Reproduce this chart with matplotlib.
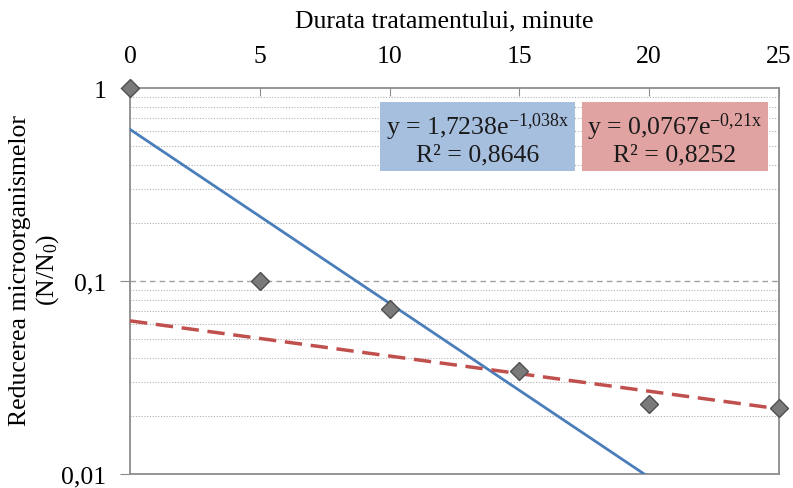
import numpy as np
import matplotlib
matplotlib.use("Agg")
import matplotlib.pyplot as plt
from matplotlib.patches import Rectangle
from matplotlib.ticker import FixedLocator, FixedFormatter, LogLocator, NullFormatter

plt.rcParams['font.family'] = ['Liberation Serif', 'DejaVu Serif']
plt.rcParams['mathtext.fontset'] = 'custom'
plt.rcParams['mathtext.rm'] = 'Liberation Serif'
plt.rcParams['mathtext.it'] = 'Liberation Serif'

# data
minutes = [0, 5, 10, 15, 20, 25]
reduction = [1.0, 0.1, 0.072, 0.034, 0.023, 0.022]
x_ticks = [0, 5, 10, 15, 20, 25]
y_ticks = [0.01, 0.1, 1]
y_tick_labels = ['0,01', '0,1', '1']
# exponential trendlines (Excel, x = point index 1..6)
blue_a, blue_b = 1.7238, -1.038
red_a, red_b = 0.0767, -0.21
blue_eq = ['y = 1,7238e$^{\\mathregular{-1{,}038x}}$', 'R² = 0,8646']
red_eq = ['y = 0,0767e$^{\\mathregular{-0{,}21x}}$', 'R² = 0,8252']

FS = 18.5

fig = plt.figure(figsize=(7.93, 4.89), dpi=100)
ax = fig.add_axes([130/793, 14/489, 649/793, 386/489])

ax.set_yscale('log')
ax.set_xlim(0, 25)
ax.set_ylim(0.01, 1)

# gridlines
ax.yaxis.set_minor_locator(LogLocator(base=10, subs=np.arange(2, 10)))
ax.yaxis.set_minor_formatter(NullFormatter())
ax.grid(True, which='minor', axis='y', linestyle=(0, (1, 1.5)), color='#b0b0b0', linewidth=0.8)
ax.axhline(0.1, color='#a0a0a0', linestyle=(0, (4, 3)), linewidth=1.0, zorder=1)

# trendlines
xs = np.linspace(0, 25, 300)
t = xs / 5 + 1
ax.plot(xs, blue_a * np.exp(blue_b * t), color='#4a7ebb', linewidth=2.0, zorder=3)
ax.plot(xs, red_a * np.exp(red_b * t), color='#c0504d', linewidth=2.5,
        linestyle=(0, (5, 2.5)), zorder=3)

# points
ax.plot(minutes, reduction, linestyle='none', marker='D', markersize=9,
        markerfacecolor='#7a7a7a', markeredgecolor='#4f4f4f', markeredgewidth=1.0,
        zorder=5, clip_on=False)

# axes styling
ax.xaxis.tick_top()
ax.set_xticks(x_ticks)
ax.set_xticklabels([str(v) for v in x_ticks])
ax.yaxis.set_major_locator(FixedLocator(y_ticks))
ax.yaxis.set_major_formatter(FixedFormatter(y_tick_labels))
ax.tick_params(axis='x', direction='in', length=6, color='#8c8c8c', labelsize=FS, pad=15)
ax.tick_params(axis='y', which='major', direction='out', length=7, color='#8c8c8c', labelsize=FS, pad=10)
ax.tick_params(axis='y', which='minor', length=0)
for s in ax.spines.values():
    s.set_color('#8c8c8c')
    s.set_linewidth(1.3)

fig.text(444/793, 1 - 21/489, 'Durata tratamentului, minute', ha='center', va='center', fontsize=FS)
fig.text(20/793, 1 - 270/489, 'Reducerea microorganismelor', rotation=90,
         ha='center', va='center', fontsize=FS)
fig.text(48/793, 1 - 270/489, '(N/N$_\\mathregular{0}$)', rotation=90,
         ha='center', va='center', fontsize=FS)

# equation boxes
def box(x0, x1, color, lines):
    y0 = 1 - (172 - 89) / 386
    y1 = 1 - (103 - 89) / 386
    ax.add_patch(Rectangle((x0, y0), x1 - x0, y1 - y0, transform=ax.transAxes,
                           facecolor=color, edgecolor='none', zorder=4))
    xc = (x0 + x1) / 2
    ax.text(xc, 1 - (127 - 89) / 386, lines[0], transform=ax.transAxes, ha='center',
            va='center', fontsize=FS, color='#1a1a1a', zorder=6)
    ax.text(xc, 1 - (155 - 89) / 386, lines[1], transform=ax.transAxes, ha='center',
            va='center', fontsize=FS, color='#1a1a1a', zorder=6)

box((380 - 130) / 649, (575 - 130) / 649, '#a7bfdf', blue_eq)
box((582 - 130) / 649, (768 - 130) / 649, '#e1a3a2', red_eq)

fig.savefig('out.png', dpi=100)
